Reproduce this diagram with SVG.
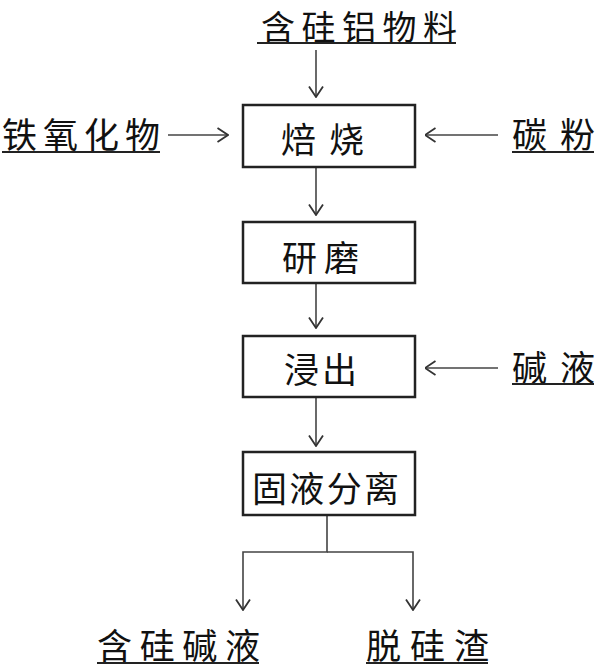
<svg xmlns="http://www.w3.org/2000/svg" width="599" height="671" viewBox="0 0 599 671">
<defs>
<marker id="arr" viewBox="0 0 12 16" refX="11.5" refY="8" markerWidth="12" markerHeight="16" markerUnits="userSpaceOnUse" orient="auto">
<path d="M1,1 L11.5,8 L1,15" fill="none" stroke="#333" stroke-width="1.8"/>
</marker>
</defs>
<style>
.t{font-family:"Noto Sans CJK SC","Noto Sans",sans-serif;font-size:35px;fill:#111;}
.box{fill:#fff;stroke:#222;stroke-width:2.5;}
.ul{stroke:#222;stroke-width:2;}
.c{fill:none;stroke:#444;stroke-width:1.6;}
</style>
<rect width="599" height="671" fill="#fff"/>
<g id="connectors">
<line class="c" x1="316" y1="50" x2="316" y2="97" marker-end="url(#arr)"/>
<line class="c" x1="168" y1="135" x2="228" y2="135" marker-end="url(#arr)"/>
<line class="c" x1="498" y1="135" x2="425" y2="135" marker-end="url(#arr)"/>
<line class="c" x1="316" y1="167" x2="316" y2="215" marker-end="url(#arr)"/>
<line class="c" x1="316" y1="283" x2="316" y2="328" marker-end="url(#arr)"/>
<line class="c" x1="498" y1="368" x2="425" y2="368" marker-end="url(#arr)"/>
<line class="c" x1="316" y1="397" x2="316" y2="446" marker-end="url(#arr)"/>
<polyline class="c" points="327,515 327,552 243,552 243,610" marker-end="url(#arr)"/>
<polyline class="c" points="327,552 413,552 413,610" marker-end="url(#arr)"/>
</g>
<g id="n-input">
<text class="t" x="261" y="40" textLength="196" lengthAdjust="spacing" style="font-size:34px">含硅铝物料</text>
<line class="ul" x1="257" y1="43" x2="456" y2="43"/>
</g>
<g id="n-iron">
<text class="t" x="2" y="148" textLength="158" lengthAdjust="spacing">铁氧化物</text>
<line class="ul" x1="2" y1="152" x2="160" y2="152"/>
</g>
<g id="n-carbon">
<text class="t" x="512" y="148" textLength="83" lengthAdjust="spacing">碳粉</text>
<line class="ul" x1="512" y1="152" x2="594" y2="152"/>
</g>
<g id="n-roast">
<rect class="box" x="243" y="105" width="172" height="62"/>
<text class="t" x="281" y="153" textLength="83" lengthAdjust="spacing">焙烧</text>
</g>
<g id="n-grind">
<rect class="box" x="243" y="222" width="172" height="61"/>
<text class="t" x="282" y="271" textLength="77" lengthAdjust="spacing">研磨</text>
</g>
<g id="n-leach">
<rect class="box" x="243" y="336" width="172" height="61"/>
<text class="t" x="284" y="383" textLength="73" lengthAdjust="spacing">浸出</text>
</g>
<g id="n-alkali">
<text class="t" x="512" y="381" textLength="83" lengthAdjust="spacing">碱液</text>
<line class="ul" x1="512" y1="384" x2="594" y2="384"/>
</g>
<g id="n-separate">
<rect class="box" x="243" y="452" width="172" height="63"/>
<text class="t" x="252" y="502" textLength="147" lengthAdjust="spacing">固液分离</text>
</g>
<g id="n-liquor">
<text class="t" x="97" y="659" textLength="163" lengthAdjust="spacing">含硅碱液</text>
<line class="ul" x1="97" y1="663" x2="259" y2="663"/>
</g>
<g id="n-residue">
<text class="t" x="366" y="659" textLength="123" lengthAdjust="spacing">脱硅渣</text>
<line class="ul" x1="366" y1="663" x2="488" y2="663"/>
</g>
</svg>
